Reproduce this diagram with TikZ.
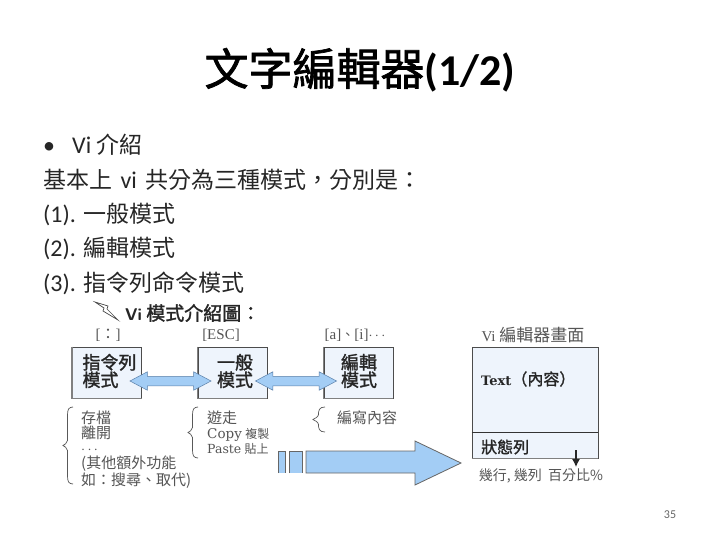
\documentclass[tikz,border=0pt]{standalone}
\usepackage{fontspec}
\setmainfont{Carlito}
\newfontfamily\cjk{Noto Sans CJK TC}
\newfontfamily\cjkb[FakeBold=1.6]{Noto Sans CJK TC}
\newfontfamily\serifl{Liberation Serif}
\newfontfamily\serifw{DejaVu Serif}
\usetikzlibrary{shapes.arrows,arrows.meta}
\definecolor{boxfill}{HTML}{EEF4FC}
\definecolor{arrowfill}{HTML}{A3CDF5}
\definecolor{arrowline}{HTML}{5A7FA8}
\definecolor{thintext}{HTML}{555555}
\newcommand{\fs}[1]{\fontsize{#1}{#1}\selectfont}
\newcommand{\zh}[1]{{\cjk\fontsize{23}{24}\selectfont #1}}
\newcommand{\fwcomma}{^^^^ff0c}
\newcommand{\fwcolon}{^^^^ff1a}
\newcommand{\fwlp}{^^^^ff08}
\newcommand{\fwrp}{^^^^ff09}
\newcommand{\curlyleft}[4]{% tip x, inner x, top y, bottom y
  \pgfmathsetmacro{\midy}{(#3+#4)/2}
  \pgfmathsetmacro{\sx}{#1+0.45*(#2-#1)}
  \draw[bracestyle] (#2,#3) .. controls ({\sx+1},#3) and (\sx,{#3+3}) .. (\sx,{#3+8})
    -- (\sx,{\midy-5}) .. controls (\sx,{\midy-2}) and ({#1+1},{\midy-1}) .. (#1,\midy)
    .. controls ({#1+1},{\midy+1}) and (\sx,{\midy+2}) .. (\sx,{\midy+5})
    -- (\sx,{#4-8}) .. controls (\sx,{#4-3}) and ({\sx+1},#4) .. (#2,#4);}
\tikzset{
  x=1pt,y=-1pt,
  titletext/.style={anchor=center,inner sep=0pt,font=\fs{44}},
  bodytext/.style={anchor=west,inner sep=0pt,text=black!85,font=\fs{24},text height=18pt,text depth=6pt},
  modebox/.style={draw=black!70,line width=0.9pt,fill=boxfill,minimum width=69pt,minimum height=51pt,inner sep=0pt,align=center},
  boxtext/.style={inner sep=0pt,anchor=center,align=left,font=\cjkb\fontsize{18}{17.5}\selectfont,text=black!85},
  keytext/.style={inner sep=0pt,font=\serifl\fs{15},text=thintext},
  notetext/.style={anchor=north west,inner sep=0pt,align=left,font=\cjk\fs{15},text=thintext},
  bracestyle/.style={draw=black!65,line width=0.7pt},
  shadowline/.style={draw=black!50,line width=1.6pt},
  fatarrow/.style={double arrow,draw=arrowline,line width=0.5pt,fill=arrowfill,inner xsep=0pt,inner ysep=4.5pt,minimum height=81pt,minimum width=0pt,double arrow head extend=4.5pt,double arrow tip angle=56},
  bigpart/.style={draw=black!60,line width=0.8pt,fill=arrowfill},
}
\begin{document}
\begin{tikzpicture}
\useasboundingbox[fill=white] (0,0) rectangle (720,540);
% title and body
\node[titletext] (title) at (360,70) {{\cjkb 文字編輯器}\textbf{(1/2)}};
\node[bodytext] (l1) at (43,148) {•\hspace{17pt}Vi \zh{介紹}};
\node[bodytext] (l2) at (43,182.5) {\zh{基本上}\hspace{3pt} vi \hspace{3pt}\zh{共分為三種模式\fwcomma 分別是\fwcolon}};
\node[bodytext] (l3) at (43,216.5) {(1). \zh{一般模式}};
\node[bodytext] (l4) at (43,250.5) {(2). \zh{編輯模式}};
\node[bodytext] (l5) at (43,285.5) {(3). \zh{指令列命令模式}};
% heading
\fill[white,draw=black!70,line width=0.7pt] (95,302) -- (108,306) -- (107,309) -- (118,320) -- (103,311) -- (104,308) -- cycle;
\node[inner sep=0pt,anchor=west,font=\cjkb\fs{19},text=black!85] (head) at (125,313) {{\sffamily\bfseries\fs{17}Vi} 模式介紹圖\fwcolon};
% key labels
\node[keytext] (k1) at (108,335) {[{\cjk\fwcolon}]};
\node[keytext] (k2) at (221,335) {[ESC]};
\node[keytext,anchor=center] (k3) at (355,335) {[a]{\cjk\fs{13}、}[i]$\cdots$};
% mode boxes
\node[modebox] (cmd) at (107,372.5) {};
\node[modebox] (nor) at (232.5,372.5) {};
\node[modebox] (edt) at (358.5,372.5) {};
\foreach \b in {cmd,nor,edt}{
  \draw[shadowline] (\b.north west) -- (\b.south west) -- (\b.south east);
}
\node[boxtext] (t1) at (109.5,371) {指令列\\模式};
\node[boxtext,align=center] (t2) at (235,371) {一般\\模式};
\node[boxtext,align=center] (t3) at (359,371) {編輯\\模式};
% double arrows
\node[fatarrow] (a1) at (170.5,381) {};
\node[fatarrow] (a2) at (296,381) {};
% notes
\curlyleft{63}{73}{407}{484}
\curlyleft{188}{198}{407}{458}
\curlyleft{313}{325}{407}{432}
\node[notetext] (n1) at (81,411) {存檔\\離開\\$\cdots$\\(其他額外功能\\如\fwcolon 搜尋、取代)};
\node[notetext] (n2) at (207,411) {遊走\\{\serifw\fs{13.5}Copy} {\fs{12}複製}\\{\serifw\fs{12.5}Paste} {\fs{12}貼上}};
\node[notetext] (n3) at (337,411) {編寫內容};
% big arrow
\draw[bigpart] (278,473) -- (278,451) -- (285,451) -- (285,473);
\draw[bigpart] (289,473) -- (289,451) -- (302,451) -- (302,473);
\draw[bigpart] (306,473) -- (306,451) -- (415,451) -- (415,441) -- (461,463) -- (415,485) -- (415,473) -- cycle;
% screen
\node[inner sep=0pt,font=\cjk\fs{17},text=thintext] (scr) at (533,335) {{\serifl\fs{15}Vi} 編輯器畫面};
\node[draw=black!70,line width=0.9pt,fill=boxfill,minimum width=126pt,minimum height=111pt,inner sep=0pt] (screen) at (535,402.5) {};
\draw[black!80,line width=0.9pt] (screen.west |- 0,432) -- (screen.east |- 0,432);
\draw[shadowline] (screen.south west) -- (screen.south east);
\node[inner sep=0pt,anchor=west,font=\cjkb\fs{16},text=black!85] (txt) at (481,379) {{\serifw\bfseries\fs{13}Text}\fwlp 內容\fwrp};
\node[inner sep=0pt,anchor=west,font=\cjkb\fs{16},text=black!85] (stat) at (481,447) {狀態列};
\coordinate (ar0) at (576,450);
\node[inner sep=0pt,font=\cjk\fs{14},text=thintext,anchor=center] (info) at (541,476) {幾行, 幾列\ \ 百分比\%};
\coordinate (ar1) at (576,467);
\draw[black!85,line width=1.2pt,-{Latex[length=8pt,width=8pt]}] (ar0) -- (ar1);
\node[inner sep=0pt,anchor=center,font=\fs{12},text=black!60] (pg) at (670,515) {35};
\end{tikzpicture}
\end{document}
